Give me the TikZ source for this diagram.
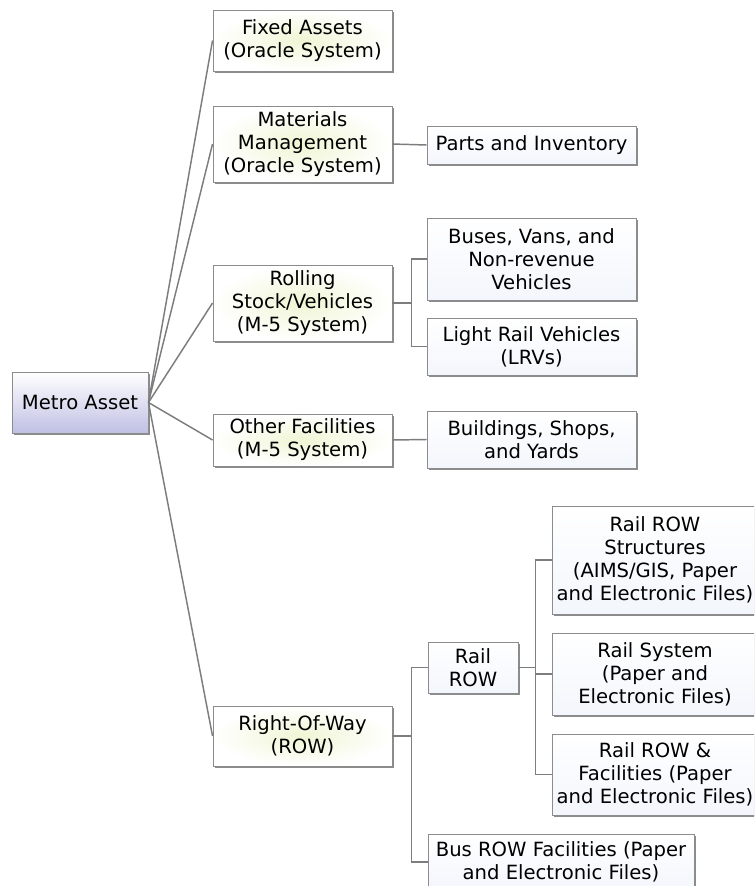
\documentclass[tikz,border=0pt]{standalone}
\usepackage{fontspec}
\setmainfont{DejaVu Sans}
\usetikzlibrary{shadows}
\definecolor{lineclr}{RGB}{125,125,125}
\definecolor{borderclr}{RGB}{140,140,140}
\definecolor{rootbot}{RGB}{192,192,228}
\definecolor{glow}{RGB}{240,245,212}
\definecolor{cool}{RGB}{243,246,252}
\tikzset{
  conn/.style={draw=lineclr, line width=1.1pt},
  boxbase/.style={draw=borderclr, line width=0.7pt, inner sep=0pt, align=center,
    font=\fontsize{14.7}{17.25}\selectfont,
    drop shadow={shadow xshift=1.8pt, shadow yshift=-1.8pt, opacity=0.45, fill=black}},
  firstlvl/.style={boxbase, inner color=glow, outer color=white},
  secondlvl/.style={boxbase, top color=white, bottom color=cool},
  rootbox/.style={boxbase, top color=white, bottom color=rootbot},
}
% box by pixel corners: style, name, x1, y1, x2, y2, text
\newcommand\mkbox[7]{%
  \pgfmathsetmacro\bxw{(#5-#3)*0.75}%
  \pgfmathsetmacro\bxh{(#6-#4)*0.75}%
  \pgfmathsetmacro\bxx{(#3+#5)/2}%
  \pgfmathsetmacro\bxy{(#4+#6)/2}%
  \node[#1, minimum width=\bxw pt, minimum height=\bxh pt] (#2) at (\bxx,\bxy) {#7};}
\begin{document}
\begin{tikzpicture}[x=0.75pt,y=-0.75pt]
\clip (0,0) rectangle (754,886);
\fill[white] (0,0) rectangle (754,886);
% root
\mkbox{rootbox}{root}{12}{372}{148}{433}{Metro Asset}
% first level
\mkbox{firstlvl}{fa}{213}{10}{392}{71}{Fixed Assets\\(Oracle System)}
\mkbox{firstlvl}{mm}{213}{106}{392}{182}{Materials\\Management\\(Oracle System)}
\mkbox{firstlvl}{rs}{213}{265}{392}{341}{Rolling\\Stock/Vehicles\\(M-5 System)}
\mkbox{firstlvl}{of}{213}{414}{392}{466}{Other Facilities\\(M-5 System)}
\mkbox{firstlvl}{row}{213}{706}{392}{766}{Right-Of-Way\\(ROW)}
% second level
\mkbox{secondlvl}{parts}{427}{126}{636}{164}{Parts and Inventory}
\mkbox{secondlvl}{buses}{427}{218}{636}{300}{Buses, Vans, and\\Non-revenue\\Vehicles}
\mkbox{secondlvl}{lrv}{427}{318}{636}{375}{Light Rail Vehicles\\(LRVs)}
\mkbox{secondlvl}{bldg}{427}{411}{636}{468}{Buildings, Shops,\\and Yards}
\mkbox{secondlvl}{rr}{428}{642}{518}{693}{Rail\\ROW}
\mkbox{secondlvl}{bus}{428}{834}{694}{890}{Bus ROW Facilities (Paper\\and Electronic Files)}
% third level
\mkbox{secondlvl}{rrs}{552}{506}{758}{614}{Rail ROW\\Structures\\(AIMS/GIS, Paper\\and Electronic Files)}
\mkbox{secondlvl}{rsys}{552}{633}{758}{715}{Rail System\\(Paper and\\Electronic Files)}
\mkbox{secondlvl}{rrf}{552}{734}{758}{815}{Rail ROW \&\\Facilities (Paper\\and Electronic Files)}
% connectors from root
\draw[conn] (root.east) -- (fa.west);
\draw[conn] (root.east) -- (mm.west);
\draw[conn] (root.east) -- (rs.west);
\draw[conn] (root.east) -- (of.west);
\draw[conn] (root.east) -- (row.west);
% elbows
\draw[conn] (mm.east) -- (parts.west);
\draw[conn] (of.east) -- (bldg.west);
\draw[conn] (rs.east) -- ++(19,0) coordinate (rsj) |- (buses.west);
\draw[conn] (rsj) |- (lrv.west);
\draw[conn] (row.east) -- ++(19,0) coordinate (rowj) |- (rr.west);
\draw[conn] (rowj) |- (bus.west);
\draw[conn] (rr.east) -- ++(17,0) coordinate (rrj) |- (rrs.west);
\draw[conn] (rrj) |- (rsys.west);
\draw[conn] (rrj) |- (rrf.west);
\end{tikzpicture}
\end{document}
